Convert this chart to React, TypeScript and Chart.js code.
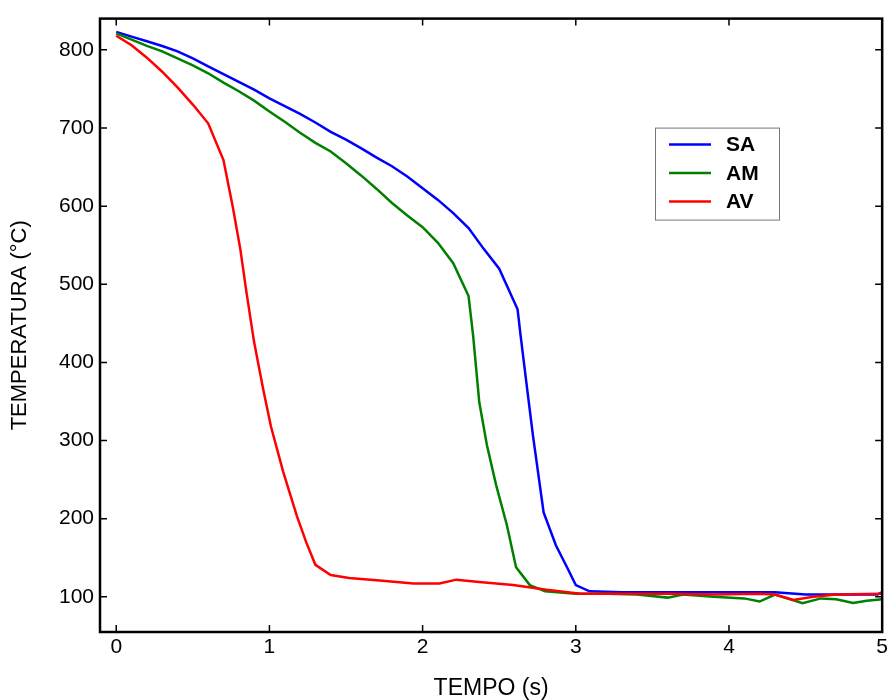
import React, { useEffect, useRef } from 'react';
import { Chart, registerables } from 'chart.js';

Chart.register(...registerables);

// ---- Data ----
const seriesLabels = ['SA', 'AM', 'AV'];
const seriesColors = ['#0000ff', '#008000', '#ff0000'];

const timeSA = [0, 0.1, 0.2, 0.3, 0.4, 0.5, 0.6, 0.7, 0.8, 0.9, 1.0, 1.1, 1.2, 1.3, 1.4, 1.5, 1.6, 1.7, 1.8, 1.9, 2.0, 2.1, 2.2, 2.3, 2.4, 2.5, 2.62, 2.64, 2.68, 2.72, 2.79, 2.87, 2.95, 3.0, 3.09, 3.3, 3.6, 4.0, 4.3, 4.5, 4.8, 4.97, 5.0];
const tempSA = [823, 817, 811, 805, 798, 789, 779, 769, 759, 749, 738, 728, 718, 707, 695, 685, 674, 662, 651, 638, 623, 608, 591, 572, 545, 520, 468, 434, 370, 307, 208, 166, 135, 115, 107, 106, 106, 106, 106, 103, 103, 103, 106];

const timeAM = [0, 0.1, 0.2, 0.3, 0.4, 0.5, 0.6, 0.7, 0.8, 0.9, 1.0, 1.1, 1.2, 1.3, 1.4, 1.5, 1.6, 1.7, 1.8, 1.9, 2.0, 2.1, 2.2, 2.3, 2.33, 2.37, 2.42, 2.48, 2.55, 2.61, 2.7, 2.8, 3.0, 3.2, 3.4, 3.6, 3.7, 3.9, 4.1, 4.2, 4.3, 4.4, 4.48, 4.6, 4.7, 4.81, 4.9, 5.0];
const tempAM = [821, 813, 805, 798, 789, 780, 770, 758, 747, 735, 721, 708, 694, 681, 670, 655, 639, 622, 604, 588, 573, 553, 527, 485, 434, 349, 294, 243, 192, 138, 115, 107, 104, 104, 103, 99, 103, 100, 98, 94, 103, 97, 92, 98, 97, 92, 95, 97];

const timeAV = [0, 0.1, 0.2, 0.3, 0.4, 0.5, 0.6, 0.7, 0.76, 0.81, 0.85, 0.9, 0.96, 1.01, 1.09, 1.18, 1.24, 1.3, 1.4, 1.52, 1.72, 1.94, 2.11, 2.22, 2.37, 2.59, 2.81, 3.03, 3.3, 3.6, 3.9, 4.2, 4.3, 4.42, 4.55, 4.7, 5.0];
const tempAV = [818, 806, 790, 772, 752, 730, 706, 659, 600, 545, 490, 426, 365, 318, 260, 203, 170, 141, 128, 124, 121, 117, 117, 122, 119, 115, 109, 104, 104, 104, 103, 104, 103, 96, 100, 103, 104];

const xTickValues = [0, 1, 2, 3, 4, 5];
const yTickValues = [100, 200, 300, 400, 500, 600, 700, 800];

const xTitle = 'TEMPO (s)';
const yTitle = 'TEMPERATURA (°C)';

const FONT = '"Liberation Sans", Arial, Helvetica, sans-serif';

const toPoints = (xs: number[], ys: number[]) => xs.map((x, i) => ({ x, y: ys[i] }));

const framePlugin = {
  id: 'frameTicks',
  afterDatasetsDraw(chart: any) {
    const { ctx, chartArea } = chart;
    const xs = chart.scales.x;
    const ys = chart.scales.y;
    const L = 7;
    ctx.save();
    ctx.strokeStyle = '#000';
    ctx.lineWidth = 1.5;
    ctx.beginPath();
    xTickValues.forEach((v) => {
      const px = xs.getPixelForValue(v);
      ctx.moveTo(px, chartArea.bottom);
      ctx.lineTo(px, chartArea.bottom - L);
      ctx.moveTo(px, chartArea.top);
      ctx.lineTo(px, chartArea.top + L);
    });
    yTickValues.forEach((v) => {
      const py = ys.getPixelForValue(v);
      ctx.moveTo(chartArea.left, py);
      ctx.lineTo(chartArea.left + L, py);
      ctx.moveTo(chartArea.right, py);
      ctx.lineTo(chartArea.right - L, py);
    });
    ctx.stroke();
    ctx.lineWidth = 2.5;
    ctx.strokeRect(chartArea.left, chartArea.top, chartArea.right - chartArea.left, chartArea.bottom - chartArea.top);
    ctx.restore();
  },
  afterDraw(chart: any) {
    const { ctx, chartArea } = chart;
    const bx = chartArea.left + 555;
    const by = chartArea.top + 109;
    const bw = 124;
    const bh = 92;
    ctx.save();
    ctx.fillStyle = '#fff';
    ctx.fillRect(bx, by, bw, bh);
    ctx.strokeStyle = '#777';
    ctx.lineWidth = 1;
    ctx.strokeRect(bx + 0.5, by + 0.5, bw, bh);
    ctx.font = 'bold 21px ' + FONT;
    ctx.textBaseline = 'middle';
    ctx.textAlign = 'left';
    chart.data.datasets.forEach((ds: any, i: number) => {
      const ry = by + 17 + i * 28.5;
      ctx.strokeStyle = ds.borderColor;
      ctx.lineWidth = 2.5;
      ctx.beginPath();
      ctx.moveTo(bx + 14, ry);
      ctx.lineTo(bx + 56, ry);
      ctx.stroke();
      ctx.fillStyle = '#000';
      ctx.fillText(ds.label, bx + 71, ry + 1);
    });
    ctx.restore();
  },
};

export default function App() {
  const canvasRef = useRef<HTMLCanvasElement | null>(null);

  useEffect(() => {
    if (!canvasRef.current) return;
    const xsArr = [timeSA, timeAM, timeAV];
    const ysArr = [tempSA, tempAM, tempAV];
    const chart = new Chart(canvasRef.current, {
      type: 'line',
      data: {
        datasets: seriesLabels.map((label, i) => ({
          label,
          data: toPoints(xsArr[i], ysArr[i]),
          borderColor: seriesColors[i],
          backgroundColor: seriesColors[i],
          borderWidth: 2.5,
          pointRadius: 0,
          tension: 0,
          fill: false,
          order: 3 - i,
        })),
      },
      options: {
        animation: false,
        responsive: false,
        maintainAspectRatio: false,
        layout: { padding: { top: 15, right: 8, left: 0, bottom: 0 } },
        plugins: {
          legend: { display: false },
          tooltip: { enabled: false },
        },
        scales: {
          x: {
            type: 'linear',
            min: -0.106,
            max: 5,
            afterBuildTicks: (scale: any) => {
              scale.ticks = xTickValues.map((v) => ({ value: v }));
            },
            afterFit: (scale: any) => {
              scale.height = 68;
            },
            grid: { display: false, drawTicks: false },
            border: { display: false },
            ticks: {
              color: '#000',
              padding: 3,
              maxRotation: 0,
              font: { family: FONT, size: 21 },
            },
            title: {
              display: true,
              text: xTitle,
              color: '#000',
              font: { family: FONT, size: 23, lineHeight: 1 },
              padding: { top: 0, bottom: 0 },
            },
          },
          y: {
            type: 'linear',
            min: 55,
            max: 840,
            afterBuildTicks: (scale: any) => {
              scale.ticks = yTickValues.map((v) => ({ value: v }));
            },
            afterFit: (scale: any) => {
              scale.width = 100;
            },
            grid: { display: false, drawTicks: false },
            border: { display: false },
            ticks: {
              color: '#000',
              padding: 6,
              font: { family: FONT, size: 21 },
            },
            title: {
              display: true,
              text: yTitle,
              color: '#000',
              font: { family: FONT, size: 22, lineHeight: 1 },
              padding: { top: 9, bottom: 0 },
            },
          },
        },
      },
      plugins: [framePlugin],
    } as any);
    return () => chart.destroy();
  }, []);

  return (
    <div style={{ position: 'fixed', left: 0, top: 0, width: 891, height: 700, background: '#fff' }}>
      <canvas ref={canvasRef} width={891} height={700} style={{ display: 'block' }} />
    </div>
  );
}
